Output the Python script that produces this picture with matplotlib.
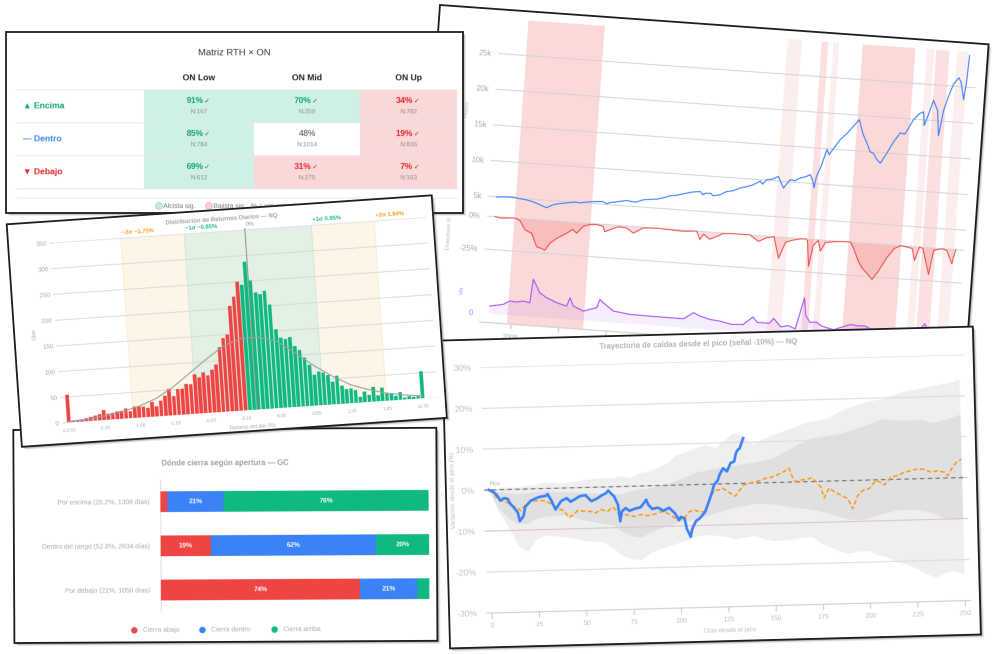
import numpy as np
import matplotlib
matplotlib.use("Agg")
import matplotlib.pyplot as plt
from matplotlib.figure import Figure
from matplotlib.backends.backend_agg import FigureCanvasAgg
from matplotlib.patches import Rectangle, Circle
from matplotlib.transforms import Affine2D

plt.rcParams['font.family'] = ['Liberation Sans', 'DejaVu Sans']
plt.rcParams['axes.unicode_minus'] = False

GREEN, RED, BLUE = '#10b981', '#ef4444', '#3b82f6'
ORANGE, PURPLE = '#f59e0b', '#a855f7'

# --- Matriz RTH x ON ---
matrix_rows = ['Encima', 'Dentro', 'Debajo']
matrix_marks = ['▲', '—', '▼']
matrix_cols = ['ON Low', 'ON Mid', 'ON Up']
matrix_win = [[91, 70, 34], [85, 48, 19], [69, 31, 7]]
matrix_n = [[167, 359, 782], [784, 1014, 836], [612, 275, 163]]
matrix_sig = [[1, 1, -1], [1, 0, -1], [1, -1, -1]]

# --- Distribucion de retornos diarios ---
hist_red = [54, 3, 4, 5, 6, 8, 10, 12, 20, 12, 13, 15, 16, 20, 14, 22, 22, 21, 18, 29,
            20, 30, 39, 52, 37, 50, 50, 59, 58, 77, 70, 79, 73, 83, 93, 126, 143, 149,
            204, 222, 250]
hist_green = [244, 288, 251, 227, 223, 229, 202, 153, 136, 133, 136, 118, 110, 95, 80,
              60, 66, 63, 58, 44, 55, 35, 28, 29, 25, 11, 21, 14, 29, 12, 26, 14, 13, 9,
              15, 4, 6, 4, 5, 53]
hist_tick_labels = ['≤-2.53', '-2.15', '-1.66', '-1.16', '-0.65', '-0.16', '0.35',
                    '0.85', '1.35', '1.85', '≥2.35']
curve_bins = list(range(0, 81, 4))
curve_vals = [2, 4, 8, 14, 22, 35, 55, 80, 105, 128, 140, 140, 130, 105, 78, 55, 36, 24,
              15, 9, 5]
sigma_pct = [-1.75, -0.85, 0.0, 0.95, 1.84]
sigma_labels = ['−2σ −1.75%', '−1σ −0.85%', '0%', '+1σ 0.95%', '+2σ 1.84%']
sigma_colors = [ORANGE, GREEN, '#9a9a9a', GREEN, ORANGE]

# --- Donde cierra segun apertura ---
close_cats = ['Por encima (26.2%, 1308 días)', 'Dentro del rango (52.8%, 2634 días)',
              'Por debajo (21%, 1050 días)']
close_down = [2.6, 18.6, 74.1]
close_in = [20.9, 61.6, 21.4]
close_up = [76.4, 19.8, 4.5]
close_legend = ['Cierra abajo', 'Cierra dentro', 'Cierra arriba']

# --- Precio / Drawdown / Vix NQ ---
price_t = [2007.02, 2007.3, 2007.72, 2008.0, 2008.29, 2008.5, 2008.71, 2008.9, 2009.14,
           2009.4, 2009.6, 2009.83, 2010.1, 2010.35, 2010.52, 2010.8, 2011.22, 2011.5,
           2011.65, 2011.78, 2012.1, 2012.47, 2012.85, 2013.16, 2013.45, 2013.72, 2014.0,
           2014.27, 2014.55, 2014.82, 2015.2, 2015.52, 2015.65, 2015.72, 2015.94, 2016.08,
           2016.36, 2016.62, 2016.9, 2017.17, 2017.45, 2017.72, 2018.0, 2018.1, 2018.27,
           2018.5, 2018.74, 2018.99, 2019.24, 2019.45, 2019.66, 2019.9, 2020.07, 2020.2,
           2020.27, 2020.33, 2020.5, 2020.69, 2020.8, 2020.95, 2021.22, 2021.5, 2021.73,
           2021.96, 2022.15, 2022.34, 2022.5, 2022.65, 2022.8, 2022.96, 2023.21, 2023.45,
           2023.71, 2023.9, 2024.22, 2024.45, 2024.62, 2024.68, 2024.85, 2025.0, 2025.2,
           2025.31, 2025.45, 2025.6, 2025.79, 2025.99, 2026.1, 2026.25, 2026.32, 2026.37]
price_k = [4.93, 5.05, 5.09, 4.95, 4.85, 4.7, 4.48, 4.25, 3.95, 4.4, 4.6, 4.75, 4.9, 5.05,
           4.95, 5.15, 5.32, 5.35, 5.1, 5.31, 5.5, 5.76, 5.6, 6.02, 6.15, 6.25, 6.5, 6.85,
           7.0, 7.26, 7.6, 7.75, 7.3, 7.55, 7.6, 7.3, 7.5, 8.0, 8.2, 8.63, 8.9, 9.22, 9.8,
           9.4, 10.06, 10.2, 10.64, 9.06, 10.3, 10.2, 10.63, 10.9, 11.2, 10.3, 9.4, 11.0,
           12.5, 14.87, 14.2, 15.0, 16.4, 17.4, 18.4, 19.36, 17.4, 16.2, 15.0, 14.8, 14.0,
           13.5, 15.0, 16.6, 17.94, 17.8, 19.9, 20.8, 21.1, 19.2, 21.0, 22.8, 21.4, 17.9,
           21.5, 23.4, 25.3, 26.2, 25.6, 23.2, 25.5, 29.4]
dd_t = [2007.01, 2007.3, 2007.64, 2007.85, 2008.07, 2008.31, 2008.6, 2008.85, 2009.06,
        2009.2, 2009.39, 2009.66, 2010.06, 2010.3, 2010.48, 2010.74, 2011.01, 2011.3,
        2011.57, 2011.65, 2011.86, 2012.2, 2012.56, 2012.85, 2013.25, 2013.81, 2014.37,
        2014.93, 2015.49, 2015.65, 2015.79, 2016.06, 2016.35, 2016.6, 2017.04, 2017.73,
        2018.1, 2018.44, 2018.74, 2018.99, 2019.24, 2019.5, 2019.85, 2020.07, 2020.15,
        2020.27, 2020.4, 2020.6, 2020.72, 2020.9, 2021.3, 2021.7, 2021.96, 2022.1, 2022.34,
        2022.5, 2022.8, 2022.96, 2023.2, 2023.5, 2023.8, 2024.05, 2024.3, 2024.55, 2024.68,
        2024.85, 2025.0, 2025.31, 2025.45, 2025.8, 2026.0, 2026.25, 2026.37]
dd_pct = [0, -0.8, -0.2, 0, -1.5, -8.4, -10.6, -20.6, -21.6, -22.7, -17.3, -13.1, -8.7,
          -5.5, -8.1, -2.6, -0.9, -0.5, -1.5, -5.5, -3.7, -1.0, -1.5, -5.0, -0.5, 0, -0.4,
          -0.9, 0, -6.2, -2.0, -5.5, -2.9, -0.5, 0, 0, -4.5, -1.2, 0, -16.2, -3.7, -1.8,
          -0.3, 0, -1.3, -20.7, -4.6, -0.5, -8.5, -1.7, -0.5, 0, 0, -4.7, -14.1, -18.8,
          -24.0, -27.1, -20.6, -10.2, -2.5, 0, -0.6, -1.5, -10.5, 0, -1.0, -20.3, -1.7,
          -0.1, -1.0, -11.0, 0]
vix_t = [2007.07, 2007.63, 2007.89, 2008.18, 2008.45, 2008.73, 2008.81, 2008.97, 2009.12,
         2009.42, 2009.85, 2010.28, 2010.4, 2010.56, 2010.99, 2011.54, 2011.65, 2011.8,
         2012.25, 2012.95, 2013.8, 2014.64, 2015.2, 2015.6, 2015.89, 2016.31, 2016.74,
         2017.2, 2017.7, 2018.1, 2018.3, 2018.8, 2018.97, 2019.3, 2019.6, 2019.9, 2020.2,
         2020.3, 2020.5, 2020.75, 2021.0, 2021.5, 2022.2, 2022.5, 2022.8, 2023.3, 2023.8,
         2024.6, 2024.9, 2025.3, 2025.6, 2026.2, 2026.37]
vix_v = [16, 21.6, 30, 28.7, 31.8, 29.3, 80, 66, 52, 42.6, 33.4, 27.7, 46, 28.8, 19.6,
         28.8, 47, 40.6, 24.2, 19.6, 19, 18.6, 18.5, 33, 26.7, 21, 19, 14, 15, 33, 22, 22,
         33, 16, 20, 14, 82, 45, 30, 32, 24, 18, 32, 30, 31, 20, 16, 30, 16, 45, 17, 22, 18]
band_start = [2007.83, 2018.71, 2020.16, 2020.64, 2021.88, 2024.57, 2024.96, 2025.85]
band_end = [2011.04, 2019.32, 2020.43, 2020.89, 2024.08, 2024.88, 2025.52, 2026.30]
band_level = [2, 0, 1, 0, 2, 0, 1, 0]
band_alpha = {0: 0.09, 1: 0.16, 2: 0.2}

# --- Trayectoria de caidas desde el pico ---
cur_days = [0, 2, 4, 5, 6, 8, 10, 11, 13, 15, 16, 18, 19, 22, 25, 27, 30, 31, 33, 35, 38,
            41, 43, 45, 48, 51, 54, 57, 59, 62, 63, 65, 66, 68, 69, 70, 72, 74, 77, 80, 83,
            84, 86, 89, 92, 95, 98, 100, 101, 103, 104, 106, 107, 109, 111, 114, 116, 118,
            119, 121, 122, 124, 126, 128, 130, 131, 132, 133, 135]
cur_vals = [0, -0.4, -1.2, -1.9, -2.7, -2.1, -2.35, -3.4, -4.45, -5.7, -7.8, -6.6, -4.4,
            -2.9, -2.3, -2.0, -1.8, -1.4, -3.1, -5.2, -3.2, -2.5, -3.4, -2.9, -2.1, -1.9,
            -3.4, -2.8, -2.2, -1.5, -0.9, -1.9, -2.3, -4.4, -8.5, -6.1, -5.3, -6.0, -5.5,
            -5.2, -3.4, -4.6, -5.7, -5.4, -6.2, -5.5, -6.9, -8.6, -7.8, -8.2, -10.7, -12.7,
            -10.7, -8.9, -8.3, -6.7, -4.3, -1.8, -0.2, 0.8, 2.2, 3.8, 3.0, 5.0, 5.4, 7.4,
            8.2, 8.5, 11.0]
med_days = [0, 2.7, 4.4, 7, 9.7, 12.3, 15, 16.7, 18.6, 22.1, 24.8, 27.4, 30, 33.5, 36,
            39.5, 42, 44.7, 46.5, 50, 53.6, 56.2, 58.9, 62.4, 65.2, 67.7, 69, 70.3, 72.9,
            76.5, 80, 83.5, 87, 90.6, 93.2, 95.8, 99.2, 102.8, 105.5, 108.2, 110.8, 113.4,
            116.2, 119, 121.6, 123.4, 125.1, 127.7, 130.2, 132, 134.7, 138.3, 141.8, 145.4,
            148.9, 152.5, 156.1, 158.8, 160.4, 162.1, 164.8, 168.3, 171, 173.6, 175.3, 177,
            179.8, 182.4, 185.9, 189.4, 191.9, 194.8, 197.5, 201, 204.6, 207.2, 209, 212.6,
            216.2, 219.7, 223.3, 226.8, 230.3, 233.8, 237.4, 240.9, 242.6, 244.5, 247.2,
            249.9]
med_vals = [0, -1.0, -2.3, -2.7, -3.2, -4.0, -4.6, -5.3, -4.1, -2.9, -3.0, -2.85, -3.2,
            -3.9, -4.9, -5.6, -7.3, -6.5, -5.6, -5.8, -5.9, -6.3, -5.5, -6.0, -5.0, -6.1,
            -7.9, -6.9, -7.0, -7.4, -7.0, -7.3, -7.0, -6.4, -6.6, -7.3, -8.6, -8.2, -6.6,
            -6.2, -6.7, -6.7, -4.3, -1.5, -1.5, -1.1, -1.55, -2.4, -3.1, -1.95, -0.4, 0,
            0.35, 0.95, 1.2, 1.8, 2.6, 3.4, 1.3, 0.05, 0.4, 0.6, 0.9, -0.5, -1.35, -4.1,
            -1.7, -2.7, -3.5, -4.4, -6.9, -3.7, -2.5, -2.1, -0.1, -0.75, -1.3, 0.55, 0.9,
            1.7, 2.0, 2.4, 2.2, 1.5, 1.8, 1.4, 0.55, 2.1, 3.7, 4.5]
band_days = [0, 5, 10, 15, 20, 25, 30, 40, 50, 60, 65, 70, 75, 80, 85, 90, 95, 100, 105,
             110, 115, 120, 125, 130, 135, 140, 145, 150, 155, 160, 165, 170, 175, 180,
             185, 190, 195, 200, 205, 210, 215, 220, 225, 230, 235, 240, 245, 250]
outer_hi = [0, 0.3, 0.5, 0.4, 0.8, 1.0, 1.5, 1.2, 1.8, 2.2, 2.0, 2.6, 2.0, 3.2, 3.5, 4.5,
            5.5, 7.4, 8.0, 9.0, 9.6, 8.8, 10.5, 12.3, 11.5, 9.4, 10.5, 11.5, 12.3, 13.0,
            13.8, 14.6, 14.9, 15.3, 16.5, 17.6, 18.3, 19.0, 19.4, 19.8, 20.6, 21.3, 21.7,
            22.1, 22.5, 22.9, 23.2, 24.0]
inner_hi = [0, -0.5, -0.8, -1.2, -1.0, -0.8, -0.6, -1.0, -1.3, -1.6, -2.0, -1.8, -1.2,
            -0.8, -0.6, -0.2, 0.4, 1.2, 2.0, 3.0, 3.3, 3.7, 4.0, 4.4, 4.7, 5.0, 5.4, 5.8,
            7.0, 8.1, 9.3, 10.4, 10.8, 11.1, 11.4, 11.9, 12.6, 13.4, 14.2, 14.8, 14.5, 14.2,
            14.4, 14.3, 13.5, 14.0, 14.6, 15.4]
inner_lo = [0, -4.5, -7.0, -8.5, -8.5, -7.2, -6.8, -6.6, -8.0, -9.0, -9.4, -11.0, -12.2,
            -12.6, -11.4, -10.5, -9.8, -9.2, -8.8, -8.4, -7.8, -7.0, -6.4, -5.9, -5.5, -5.1,
            -5.2, -5.3, -5.7, -6.2, -6.5, -6.8, -7.4, -7.9, -8.8, -9.5, -9.7, -9.5, -8.7,
            -8.1, -7.6, -7.5, -7.6, -8.0, -8.6, -9.8, -10.4, -10.0]
outer_lo = [0, -5.5, -9.0, -14.0, -15.3, -12.2, -11.5, -12.0, -13.0, -13.5, -15.0, -17.0,
            -17.8, -18.0, -16.3, -15.5, -14.8, -14.1, -13.5, -12.6, -12.4, -12.6, -13.0,
            -13.6, -13.2, -12.9, -13.8, -14.3, -14.2, -14.0, -13.6, -13.5, -15.2, -16.2,
            -17.3, -17.8, -17.3, -17.3, -18.4, -19.0, -20.3, -20.9, -22.0, -23.3, -24.2,
            -23.2, -22.8, -23.6]

SS = 3  # cada panel se dibuja a 3x y luego se reduce


def new_panel(w, h):
    f = Figure(figsize=(w / 100, h / 100), dpi=100 * SS, facecolor='white')
    FigureCanvasAgg(f)
    return f


def sub_axes(f, w, h, x0, y0, x1, y1):
    # caja en pixeles locales del panel (y hacia abajo)
    return f.add_axes([x0 / w, 1 - y1 / h, (x1 - x0) / w, (y1 - y0) / h])


def overlay(f, w, h):
    ov = f.add_axes([0, 0, 1, 1], zorder=10)
    ov.set_xlim(0, w)
    ov.set_ylim(h, 0)
    ov.axis('off')
    return ov


def clean(ax):
    for s in ax.spines.values():
        s.set_visible(False)
    ax.patch.set_alpha(0)


def render(f):
    f.canvas.draw()
    return np.asarray(f.canvas.buffer_rgba()).copy()


def panel_matrix():
    w, h = 457, 181
    f = new_panel(w, h)
    ov = overlay(f, w, h)
    col_x = [138, 248, 354, 451]
    row_y = [57.5, 90.5, 123.5, 156.5]
    green_t, red_t = '#12a36f', '#e8232b'
    row_colors = [green_t, BLUE, red_t]
    ov.text(w / 2, 21, 'Matriz RTH × ON', ha='center', va='center', fontsize=6.8, color='#333333')
    for j, name in enumerate(matrix_cols):
        ov.text((col_x[j] + col_x[j + 1]) / 2, 46, name, ha='center', va='center',
                fontsize=6.2, fontweight='bold', color='#222222')
    for i, name in enumerate(matrix_rows):
        top, bot = row_y[i], row_y[i + 1]
        ov.text(17, (top + bot) / 2, f'{matrix_marks[i]} {name}', ha='left', va='center',
                fontsize=6.2, fontweight='bold', color=row_colors[i])
        for j in range(len(matrix_cols)):
            s = matrix_sig[i][j]
            fc = {1: '#cff1e4', -1: '#fcd7d8', 0: 'white'}[s]
            tc = {1: green_t, -1: red_t, 0: '#444444'}[s]
            ov.add_patch(Rectangle((col_x[j], top), col_x[j + 1] - col_x[j], bot - top,
                                   facecolor=fc, lw=0, zorder=1))
            cx = (col_x[j] + col_x[j + 1]) / 2
            pct = f'{matrix_win[i][j]}%'
            if s:
                ov.text(cx + 4, top + 11.2, pct, ha='right', va='center', fontsize=6,
                        fontweight='bold', color=tc, zorder=3)
                ov.text(cx + 5.5, top + 11.8, '✓', ha='left', va='center', fontsize=4.8,
                        color='#555555', zorder=3)
            else:
                ov.text(cx, top + 11.2, pct, ha='center', va='center', fontsize=6,
                        color=tc, zorder=3)
            ov.text(cx, top + 22.2, f'N:{matrix_n[i][j]}', ha='center', va='center',
                    fontsize=4.6, color='#8a8a8a', zorder=3)
    for y in row_y:
        ov.plot([11, 451], [y, y], color='#e8e8e8', lw=0.8, zorder=2)
    ov.plot([11, 451], [166, 166], color='#eeeeee', lw=0.8, zorder=2)
    ov.add_patch(Circle((153, 174), 3.3, facecolor='#cdeede', edgecolor='#86d4b3', lw=0.5))
    ov.text(157.5, 174, 'Alcista sig.', ha='left', va='center', fontsize=4.8, color='#777777')
    ov.add_patch(Circle((203, 174), 3.3, facecolor='#fcd3d3', edgecolor='#f3a0a0', lw=0.5))
    ov.text(207.5, 174, 'Bajista sig.', ha='left', va='center', fontsize=4.8, color='#777777')
    ov.text(245, 174, '% = win rate alcista', ha='left', va='center', fontsize=4.8,
            color='#777777')
    return render(f), w, h


def panel_hist():
    w, h = 426, 223
    f = new_panel(w, h)
    ov = overlay(f, w, h)
    ax = sub_axes(f, w, h, 45, 21.7, 418, 201.8)
    clean(ax)
    counts = hist_red + hist_green
    idx = np.arange(len(counts))
    colors = [RED] * len(hist_red) + [GREEN] * len(hist_green)
    tick_idx = idx[::8]
    inner_vals = [float(s) for s in hist_tick_labels[1:-1]]
    edges = np.interp(sigma_pct, inner_vals, tick_idx[1:-1])
    ax.axvspan(edges[0], edges[1], color='#fdf5e8', lw=0, zorder=0)
    ax.axvspan(edges[1], edges[3], color='#e3f1e5', lw=0, zorder=0)
    ax.axvspan(edges[3], edges[4], color='#fdf5e8', lw=0, zorder=0)
    for k in (0, 1, 3, 4):
        ax.axvline(edges[k], color=sigma_colors[k], lw=0.5, ls=(0, (1, 1.5)), alpha=0.45,
                   zorder=0.8)
    ax.bar(idx, counts, width=0.8, color=colors, lw=0, zorder=3)
    ax.plot(curve_bins, curve_vals, color='#a0a0a0', lw=0.8, zorder=4)
    ax.vlines(edges[2], 0, 354, color='#8c8c8c', lw=0.7, zorder=5, clip_on=False)
    for e, lab, c in zip(edges, sigma_labels, sigma_colors):
        ax.text(e + 0.3, 360, lab, ha='left', va='center', fontsize=4.2,
                fontweight='normal' if lab == '0%' else 'bold', color=c, clip_on=False)
    ax.set_xlim(-0.7, 83.6)
    ax.set_ylim(0, 350)
    ax.set_yticks(np.arange(0, 351, 50))
    ax.set_xticks(tick_idx, hist_tick_labels)
    ax.tick_params(axis='y', labelsize=4.6, labelcolor='#a8a8a8', length=3, color='#dddddd',
                   pad=2)
    ax.tick_params(axis='x', labelsize=3.4, labelcolor='#a8a8a8', length=0, pad=4)
    ax.grid(axis='y', color='#d6d6d6', lw=0.6)
    ov.text(214, 9.8, 'Distribución de Retornos Diarios — NQ', ha='center', va='center',
            fontsize=4.3, fontweight='bold', color='#a5a5a5')
    ov.text(231, 218.5, 'Retorno del día (%)', ha='center', va='center', fontsize=3.8,
            color='#aaaaaa')
    ov.text(19, 112, 'Días', ha='center', va='center', rotation=90, fontsize=3.8,
            color='#aaaaaa')
    return render(f), w, h


def panel_close():
    w, h = 423, 213
    f = new_panel(w, h)
    ov = overlay(f, w, h)
    ax = sub_axes(f, w, h, 146.7, 51, 414.7, 183)
    clean(ax)
    y = np.arange(len(close_cats))
    left = np.zeros(len(y))
    for vals, col in zip([close_down, close_in, close_up], [RED, BLUE, GREEN]):
        ax.barh(y, vals, left=left, height=0.47, color=col, lw=0, zorder=2)
        for yi in y:
            if vals[yi] >= 8:
                ax.text(left[yi] + vals[yi] / 2, yi, f'{vals[yi]:.0f}%', ha='center',
                        va='center', fontsize=4.8, fontweight='bold', color='white', zorder=3)
        left = left + np.array(vals)
    ax.axvline(0, color='#d5d5d5', lw=0.8, zorder=1)
    ax.set_xlim(0, 100)
    ax.set_ylim(len(y) - 0.5, -0.5)
    ax.set_xticks([])
    ax.set_yticks(y, close_cats)
    ax.tick_params(axis='y', length=0, pad=7.7, labelsize=4.8, labelcolor='#a8a8a8')
    ov.text(w / 2, 35, 'Dónde cierra según apertura — GC', ha='center', va='center',
            fontsize=5.5, fontweight='bold', color='#a0a0a0')
    for lx, lab, col in zip([120, 188, 260], close_legend, [RED, BLUE, GREEN]):
        ov.add_patch(Circle((lx, 201), 3.2, facecolor=col, lw=0))
        ov.text(lx + 8.5, 201, lab, ha='left', va='center', fontsize=4.8, color='#aaaaaa')
    return render(f), w, h


def panel_market():
    w, h = 550, 360
    f = new_panel(w, h)
    ov = overlay(f, w, h)
    L, R = 62, 540
    xl = (2006.675, 2026.725)

    axb = sub_axes(f, w, h, L, 10, R, 313.8)
    for a, b, lev in zip(band_start, band_end, band_level):
        axb.axvspan(a, b, color=RED, alpha=band_alpha[lev], lw=0)
    axb.set_xlim(xl)
    axb.axis('off')

    axp = sub_axes(f, w, h, L, 10, R, 200)
    clean(axp)
    axp.plot(price_t, np.array(price_k) * 1000, color=BLUE, lw=0.8)
    axp.set_xlim(xl)
    axp.set_ylim(3291, 29902)
    axp.set_yticks([5000, 10000, 15000, 20000, 25000], ['5k', '10k', '15k', '20k', '25k'])
    axp.set_xticks([])
    axp.tick_params(axis='y', length=0, pad=5, labelsize=5.6, labelcolor='#a8a8a8')
    axp.grid(axis='y', color='#d4d4d4', lw=0.7)

    axd = sub_axes(f, w, h, L, 200, R, 258)
    clean(axd)
    axd.fill_between(dd_t, dd_pct, 0, color=RED, alpha=0.18, lw=0)
    axd.plot(dd_t, dd_pct, color=RED, lw=0.7)
    axd.set_xlim(xl)
    axd.set_ylim(-38.1, 5.93)
    axd.set_yticks([0, -25], ['0%', '-25%'])
    axd.set_xticks([])
    axd.tick_params(axis='y', length=0, pad=5, labelsize=5.6, labelcolor='#a8a8a8')
    axd.grid(axis='y', color='#d4d4d4', lw=0.7)

    axv = sub_axes(f, w, h, L, 258, R, 313.8)
    clean(axv)
    axv.fill_between(vix_t, vix_v, 0, color=PURPLE, alpha=0.1, lw=0)
    axv.plot(vix_t, vix_v, color=PURPLE, lw=0.8)
    axv.set_xlim(xl)
    axv.set_ylim(-19.6, 100.4)
    axv.set_yticks([0], ['0'])
    axv.set_xticks(range(2008, 2027, 2))
    axv.tick_params(axis='y', length=0, pad=5, labelsize=5.6, labelcolor='#b57cf0')
    axv.tick_params(axis='x', length=3.5, color='#c8c8c8', labelsize=4.8, labelcolor='#aaaaaa')
    axv.spines['bottom'].set_visible(True)
    axv.spines['bottom'].set_color('#d0d0d0')

    ov.text(34, 103, 'Precio', rotation=90, ha='center', va='center', fontsize=4,
            color='#bbbbbb')
    ov.text(25, 228, 'Drawdown %', rotation=90, ha='center', va='center', fontsize=4,
            color='#bbbbbb')
    ov.text(42, 284, 'Vix', rotation=90, ha='center', va='center', fontsize=4,
            color='#b57cf0')
    return render(f), w, h


def panel_traj():
    w, h = 531, 308
    f = new_panel(w, h)
    ov = overlay(f, w, h)
    ax = sub_axes(f, w, h, 38, 28.3, 521, 273.9)
    clean(ax)
    ax.fill_between(band_days, outer_lo, outer_hi, color='#efefef', lw=0, zorder=1)
    ax.fill_between(band_days, inner_lo, inner_hi, color='#e0e0e2', lw=0, zorder=1.1)
    ax.axhline(0, color='#707070', lw=0.8, ls=(0, (4, 3)), zorder=2)
    ax.axhline(-10, color='#d4a0a0', lw=0.7, ls=(0, (1, 1.5)), zorder=2)
    ax.plot(med_days, med_vals, color=ORANGE, lw=1.1, ls=(0, (3, 1.6)), zorder=3)
    ax.plot(cur_days, cur_vals, color=BLUE, lw=1.9, zorder=4)
    ax.text(0.5, 0.8, 'Pico', fontsize=3.8, color='#aaaaaa', va='bottom', zorder=5)
    ax.set_xlim(-2.54, 252.8)
    ax.set_ylim(-30, 30)
    ax.set_yticks(np.arange(-30, 31, 10), [f'{v}%' for v in range(-30, 31, 10)])
    ax.set_xticks(np.arange(0, 251, 25))
    ax.tick_params(axis='y', length=0, pad=7, labelsize=6.3, labelcolor='#c0c0c0')
    ax.tick_params(axis='x', length=4, width=0.8, color='#cfcfcf', pad=3, labelsize=4.8,
                   labelcolor='#bbbbbb')
    ax.grid(axis='y', color='#dedede', lw=0.8)
    ax.spines['bottom'].set_visible(True)
    ax.spines['bottom'].set_color('#d0d0d0')
    ov.text(256, 10.7, 'Trayectoria de caídas desde el pico (señal -10%) — NQ',
            ha='center', va='center', fontsize=5.5, fontweight='bold', color='#b3b3b3')
    ov.text(280, 298, 'Días desde el pico', ha='center', va='center', fontsize=4.6,
            color='#bbbbbb')
    ov.text(7, 151, 'Variación desde el pico (%)', rotation=90, ha='center', va='center',
            fontsize=4.6, color='#bbbbbb')
    return render(f), w, h


fig = plt.figure(figsize=(10, 6.54), dpi=100)
main = fig.add_axes([0, 0, 1, 1])
main.set_axis_off()


def place(arr, w, h, x0, y0, ang, z):
    tr = Affine2D().rotate_deg(ang).translate(x0, y0) + main.transData
    for off, al in [(3.2, 0.08), (2.2, 0.14), (1.2, 0.2)]:
        main.add_patch(Rectangle((off, off), w, h, facecolor='black', alpha=al, lw=0,
                                 transform=tr, zorder=z))
    im = main.imshow(arr, extent=(0, w, h, 0), zorder=z + 0.1, interpolation='antialiased',
                     resample=True)
    im.set_transform(tr)
    main.add_patch(Rectangle((0, 0), w, h, fill=False, edgecolor='#1e1e1e', lw=1.3,
                             transform=tr, zorder=z + 0.2))


layout = [
    (panel_market, 440.0, 5.0, 4.1),
    (panel_close, 13.3, 430.0, -0.3),
    (panel_matrix, 6.0, 32.0, 0.0),
    (panel_traj, 442.0, 340.5, -1.5),
    (panel_hist, 6.7, 224.3, -3.9),
]
for z, (fn, x0, y0, ang) in enumerate(layout):
    arr, w, h = fn()
    place(arr, w, h, x0, y0, ang, 2 * z + 1)

main.set_xlim(0, 1000)
main.set_ylim(654, 0)
main.set_aspect('auto')
fig.savefig('out.png', dpi=100, facecolor='white')
